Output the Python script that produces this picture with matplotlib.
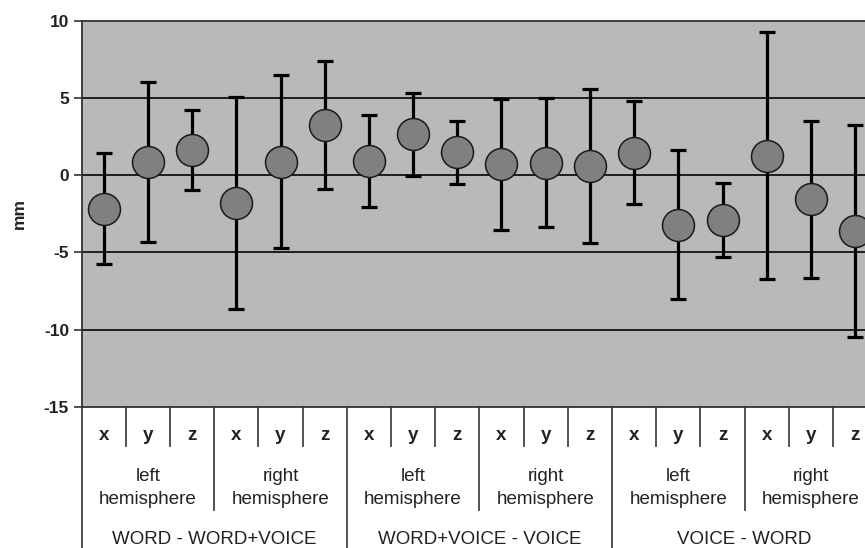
import matplotlib
matplotlib.use("Agg")
import matplotlib.pyplot as plt
import matplotlib.transforms as mtransforms
import numpy as np

plt.rcParams['font.family'] = ['Liberation Sans', 'DejaVu Sans']

# ---- data ----
axis_labels = ['x', 'y', 'z'] * 6
hemi_labels = ['left\nhemisphere', 'right\nhemisphere'] * 3
group_labels = ['WORD - WORD+VOICE', 'WORD+VOICE - VOICE', 'VOICE - WORD']
means = [-2.16, 0.87, 1.62, -1.79, 0.87, 3.25,
         0.93, 2.66, 1.50, 0.71, 0.82, 0.61,
         1.47, -3.20, -2.88, 1.28, -1.56, -3.61]
errors = [3.62, 5.20, 2.58, 6.85, 5.60, 4.15,
          3.00, 2.68, 2.05, 4.23, 4.20, 5.00,
          3.36, 4.82, 2.41, 8.03, 5.08, 6.89]
yticks = [-15, -10, -5, 0, 5, 10]

W, H = 865, 548
fig = plt.figure(figsize=(W / 100, H / 100), dpi=100)
n = len(means)
left_px, top_px, bottom_px, step_px = 81.6, 21.0, 406.7, 44.2
ax = fig.add_axes([left_px / W, (H - bottom_px) / H,
                   n * step_px / W, (bottom_px - top_px) / H])
ax.set_facecolor('#b9b9b9')

xs = np.arange(n)
ax.errorbar(xs, means, yerr=errors, fmt='none', ecolor='black',
            elinewidth=2.3, capsize=5.5, capthick=2.3, zorder=3)
ax.plot(xs, means, 'o', markersize=23, markerfacecolor='#808080',
        markeredgecolor='#1a1a1a', markeredgewidth=1.1, zorder=4)

ax.set_xlim(-0.5, n - 0.5)
ax.set_ylim(-15, 10)
ax.set_yticks(yticks)
ax.set_yticklabels([str(t) for t in yticks], fontsize=12.5, fontweight='bold',
                   color='#222222')
ax.tick_params(axis='y', length=6, width=1.2, color='#333333', pad=3)
ax.set_xticks([])
for yv in [-10, -5, 0, 5]:
    ax.axhline(yv, color='#111111', lw=1.3, zorder=1)
for s in ['left', 'top', 'bottom', 'right']:
    ax.spines[s].set_color('#333333')
    ax.spines[s].set_linewidth(1.3)

ax.set_ylabel('mm', fontsize=12.5, fontweight='bold', labelpad=12, color='#222222')

# ---- category table below axes ----
trans = mtransforms.blended_transform_factory(ax.transData, ax.transAxes)
hpx = bottom_px - top_px

def fy(py):
    return (bottom_px - py) / hpx

line_kw = dict(color='#444444', lw=1.3, transform=trans, clip_on=False)
# left border
ax.plot([-0.5, -0.5], [0, fy(560)], **line_kw)
for k in range(1, n):
    xb = k - 0.5
    if k % 6 == 0:
        y_end = fy(560)
    elif k % 3 == 0:
        y_end = fy(510)
    else:
        y_end = fy(445.7)
    ax.plot([xb, xb], [0, y_end], **line_kw)

for i, lab in enumerate(axis_labels):
    ax.text(i, fy(435.5), lab, ha='center', va='center', fontsize=13.5,
            fontweight='bold', color='#222222', transform=trans)
for j, lab in enumerate(hemi_labels):
    ax.text(3 * j + 1, fy(488), lab, ha='center', va='center', fontsize=13.5,
            color='#222222', linespacing=1.4, transform=trans)
for g, lab in enumerate(group_labels):
    ax.text(6 * g + 2.5, fy(539.5), lab, ha='center', va='center', fontsize=13.5,
            color='#222222', transform=trans)

fig.savefig('out.png', dpi=100)
